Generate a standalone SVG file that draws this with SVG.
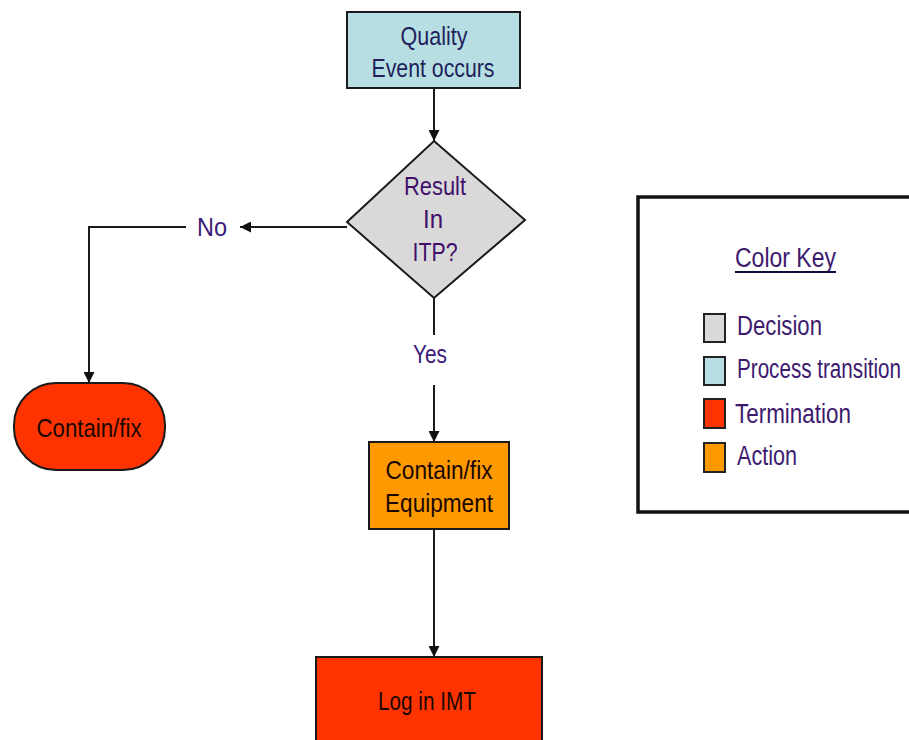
<svg xmlns="http://www.w3.org/2000/svg" width="909" height="740" viewBox="0 0 909 740">
  <style>
    .t { font-family: "Liberation Sans", Arial, sans-serif; font-size: 26px; text-anchor: middle; dominant-baseline: central; }
    .lk { font-family: "Liberation Sans", Arial, sans-serif; font-size: 27px; dominant-baseline: central; fill: #3d1a6e; }
    .edge { stroke: #1a1a1a; stroke-width: 2; fill: none; }
    .shape { stroke: #1a1a1a; stroke-width: 2; }
    .sw { stroke: #222; stroke-width: 2; }
  </style>
  <defs>
    <marker id="arrow" viewBox="0 0 10 10" refX="10" refY="5" markerWidth="12" markerHeight="11" orient="auto" markerUnits="userSpaceOnUse">
      <path d="M0,0 L10,5 L0,10 Z" fill="#111"/>
    </marker>
  </defs>
  <rect width="909" height="740" fill="#ffffff"/>

  <g id="connectors">
    <line class="edge" x1="434" y1="88" x2="434" y2="141" marker-end="url(#arrow)"/>
    <line class="edge" x1="347" y1="227" x2="240" y2="227" marker-end="url(#arrow)"/>
    <polyline class="edge" points="186,227 89,227 89,383" marker-end="url(#arrow)"/>
    <line class="edge" x1="434" y1="298" x2="434" y2="335"/>
    <line class="edge" x1="434" y1="385" x2="434" y2="442" marker-end="url(#arrow)"/>
    <line class="edge" x1="434" y1="529" x2="434" y2="657" marker-end="url(#arrow)"/>
    <text class="t" x="212" y="227" fill="#3a1a78" textLength="30" lengthAdjust="spacingAndGlyphs">No</text>
    <text class="t" x="430" y="354" fill="#3a1a78" textLength="34" lengthAdjust="spacingAndGlyphs">Yes</text>
  </g>

  <g id="quality-event">
    <rect class="shape" x="347" y="12" width="173" height="76" fill="#b7dfe3"/>
    <text class="t" x="434" y="36" fill="#1f1f5c" textLength="67" lengthAdjust="spacingAndGlyphs">Quality</text>
    <text class="t" x="433" y="68" fill="#1f1f5c" textLength="123" lengthAdjust="spacingAndGlyphs">Event occurs</text>
  </g>

  <g id="result-in-itp">
    <polygon class="shape" points="434,141 525,220 434,298 347,222" fill="#d9d9d9"/>
    <text class="t" x="435" y="186" fill="#40106a" textLength="62" lengthAdjust="spacingAndGlyphs">Result</text>
    <text class="t" x="433" y="219" fill="#40106a" textLength="20" lengthAdjust="spacingAndGlyphs">In</text>
    <text class="t" x="435" y="252" fill="#40106a" textLength="45" lengthAdjust="spacingAndGlyphs">ITP?</text>
  </g>

  <g id="contain-fix">
    <rect class="shape" x="14" y="383" width="151" height="87" rx="42" ry="42" fill="#ff3300"/>
    <text class="t" x="89" y="428" fill="#1a0800" textLength="105" lengthAdjust="spacingAndGlyphs">Contain/fix</text>
  </g>

  <g id="contain-fix-equipment">
    <rect class="shape" x="369" y="442" width="140" height="87" fill="#ff9900"/>
    <text class="t" x="439" y="470" fill="#1a0800" textLength="107" lengthAdjust="spacingAndGlyphs">Contain/fix</text>
    <text class="t" x="439" y="503" fill="#1a0800" textLength="108" lengthAdjust="spacingAndGlyphs">Equipment</text>
  </g>

  <g id="log-in-imt">
    <rect class="shape" x="316" y="657" width="226" height="95" fill="#ff3300"/>
    <text class="t" x="427" y="701" fill="#1a0800" textLength="98" lengthAdjust="spacingAndGlyphs">Log in IMT</text>
  </g>

  <g id="color-key">
    <rect x="638" y="197" width="290" height="315" fill="#ffffff" stroke="#111" stroke-width="3.5"/>
    <text class="lk" x="735" y="258" fill="#0d0d3a" textLength="101" lengthAdjust="spacingAndGlyphs">Color Key</text>
    <line x1="735" y1="272" x2="836" y2="272" stroke="#0d0d3a" stroke-width="2"/>
    <rect class="sw" x="704" y="314" width="21" height="28" fill="#d9d9d9"/>
    <text class="lk" x="737" y="326" textLength="85" lengthAdjust="spacingAndGlyphs">Decision</text>
    <rect class="sw" x="704" y="357" width="21" height="28" fill="#b7dfe3"/>
    <text class="lk" x="737" y="369" textLength="164" lengthAdjust="spacingAndGlyphs">Process transition</text>
    <rect class="sw" x="704" y="399" width="21" height="29" fill="#ff3300"/>
    <text class="lk" x="735" y="414" textLength="116" lengthAdjust="spacingAndGlyphs">Termination</text>
    <rect class="sw" x="704" y="443" width="21" height="29" fill="#ff9900"/>
    <text class="lk" x="737" y="456" textLength="60" lengthAdjust="spacingAndGlyphs">Action</text>
  </g>
</svg>
